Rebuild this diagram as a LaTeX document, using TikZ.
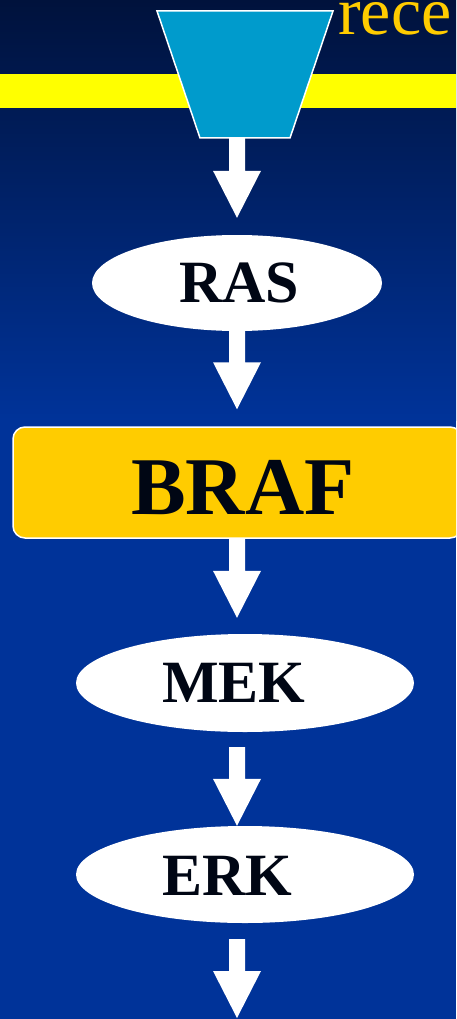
\documentclass[tikz,border=0pt]{standalone}
\usepackage{fontspec}
\setmainfont{Liberation Serif}
\usetikzlibrary{shapes.geometric,calc}
\definecolor{bgtop}{RGB}{0,18,60}
\definecolor{bgblue}{RGB}{0,51,153}
\definecolor{band}{RGB}{255,255,0}
\definecolor{recfill}{RGB}{0,155,204}
\definecolor{gold}{RGB}{255,204,0}
\definecolor{ink}{RGB}{0,6,20}
\begin{document}
\begin{tikzpicture}[x=1pt,y=-1pt,
  blockarrow/.style 2 args={to path={let \p1=(\tikztostart), \p2=(\tikztotarget), \p3=(axis) in
    (\x3-8pt,\y1-#1) -- (\x3+8pt,\y1-#1) -- (\x3+8pt,\y2+#2+47pt) -- (\x3+24pt,\y2+#2+47pt)
    -- (\x3,\y2+#2) -- (\x3-24pt,\y2+#2+47pt) -- (\x3-8pt,\y2+#2+47pt) -- cycle}},
  oval/.style={ellipse, fill=white, inner sep=0pt},
  lbl/.style={font=\bfseries\fontsize{60}{60}\selectfont, text=ink, inner sep=0pt, anchor=west},
  kinase/.style={rectangle, rounded corners=12pt, draw=white, line width=1.5pt, fill=gold, inner sep=0pt}
]
\useasboundingbox (0,0) rectangle (456,1019);
\clip (0,0) rectangle (456,1019);
% background
\fill[bgblue] (0,0) rectangle (456,1019);
\shade[top color=bgtop, bottom color=bgblue] (0,0) rectangle (456,420);
\fill[band] (0,74) rectangle (456,108);
% receptor
\draw[white, line width=1.5pt, fill=recfill] (157,11) -- (333,11) -- (290,138) -- (200,138) -- cycle;
\coordinate (rec) at (245,138);
\node[font=\fontsize{68}{68}\selectfont, text=gold, inner sep=0pt, anchor=base west] (rectext) at (338,35) {rece};
% axis of arrows
\coordinate (axis) at (237,0);
% nodes
\node[oval, minimum width=290pt, minimum height=96pt] (ras) at (237,283) {};
\node[lbl] (raslbl) at (179,283) {RAS};
\node[kinase, minimum width=449pt, minimum height=111pt] (braf) at (237.5,482.5) {};
\node[lbl, font=\bfseries\fontsize{82}{82}\selectfont] (braflbl) at (131,487.5) {BRAF};
\node[oval, minimum width=338pt, minimum height=98pt] (mek) at (245,683) {};
\node[lbl] (meklbl) at (162,683) {MEK};
\node[oval, minimum width=338pt, minimum height=97pt] (erk) at (245,874.5) {};
\node[lbl] (erklbl) at (162,875.5) {ERK};
\coordinate (sink) at (237,1018);
% arrows
\fill[white] (rec) to[blockarrow={0pt}{17pt}] (ras.north);
\fill[white] (ras.south) to[blockarrow={0pt}{17pt}] (braf.north);
\fill[white] (braf.south) to[blockarrow={0pt}{16pt}] (mek.north);
\fill[white] (mek.south) to[blockarrow={15pt}{0pt}] (erk.north);
\fill[white] (erk.south) to[blockarrow={16pt}{0pt}] (sink);
\end{tikzpicture}
\end{document}
